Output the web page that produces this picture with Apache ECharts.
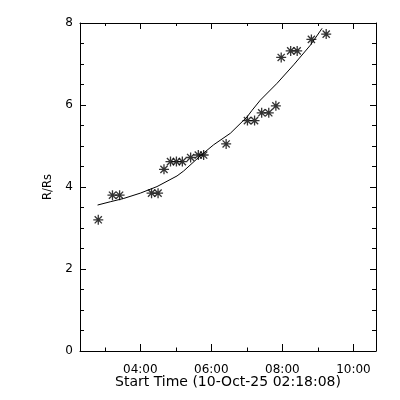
<!DOCTYPE html>
<html>
<head>
<meta charset="utf-8">
<script src="https://cdn.jsdelivr.net/npm/echarts@6/dist/echarts.min.js"></script>
<style>html,body{margin:0;padding:0;background:#fff;}#c{width:400px;height:400px;}</style>
</head>
<body>
<div id="c"></div>
<script>
// Observation start times (HH:MM on 10-Oct-25) and heights (R/Rs)
var obsTimes = ["02:49","03:13","03:25","04:19","04:30","04:40","04:51","05:01","05:11","05:25","05:38","05:47",
                "06:25","07:01","07:13","07:25","07:37","07:49","07:58","08:14","08:25","08:49","09:14"];
var obsHeights = [3.20,3.80,3.80,3.85,3.85,4.43,4.62,4.62,4.62,4.72,4.78,4.78,
                  5.05,5.62,5.62,5.81,5.81,5.98,7.16,7.32,7.32,7.60,7.73];
// Fitted curve (hours of day, R/Rs)
var fitHours = [2.797,3.155,3.530,4.000,4.470,5.034,5.220,5.690,6.065,6.535,7.006,7.146,7.380,7.851,8.318,8.789,9.118];
var fitHeights = [3.56,3.64,3.72,3.85,4.01,4.27,4.39,4.76,5.03,5.31,5.71,5.87,6.12,6.53,6.98,7.46,7.87];
// Axis ticks (hours of day)
var xMajorFirst = 4, xMajorLast = 10, xMajorStep = 2;
var xMinorFirst = 3, xMinorLast = 10, xMinorStep = 1;
var yMajorStep = 2, yMinorStep = 0.5;
var yMin = 0, yMax = 8;
var startLabel = "Start Time (10-Oct-25 02:18:08)";
var yName = "R/Rs";
var xStart = 2 + 18/60 + 8/3600;      // 02:18:08
var xEnd = xStart + 30000/3600;

function toHours(s){var p=s.split(":");return +p[0] + (+p[1])/60;}
function hhmm(v){var h=Math.floor(v+1e-6), m=Math.round((v-h)*60); return (h<10?'0':'')+h+':'+(m<10?'0':'')+m;}
var scatterData = obsTimes.map(function(t,i){return [toHours(t), obsHeights[i]];});
var fitData = fitHours.map(function(h,i){return [h, fitHeights[i]];});

var font = "DejaVu Sans";
var G = {left:80, right:24, top:23, bottom:49, W:400};
var plotW = G.W - G.left - G.right;
var pxPerHour = plotW / (xEnd - xStart);
function gridFor(h0, h1){
  var l = G.left + (h0 - xStart) * pxPerHour;
  var r = G.left + (h1 - xStart) * pxPerHour;
  return {left:l, right:G.W - r, top:G.top, bottom:G.bottom, containLabel:false};
}
var grids = [
  {left:G.left, right:G.right, top:G.top, bottom:G.bottom, containLabel:false},
  gridFor(xMajorFirst, xMajorLast),
  gridFor(xMinorFirst, xMinorLast)
];
function ls(){ return {color:'#000', width:1}; }
function tickAxis(grid, pos, mn, mx, step, len, labels){
  return {
    type:'value', gridIndex:grid, position:pos, min:mn, max:mx, interval:step,
    axisLine:{show:false, onZero:false},
    axisTick:{show:true, inside:true, length:len, lineStyle:ls()},
    axisLabel:labels ? {show:true, margin:13, color:'#000', fontFamily:font, fontSize:12, formatter:hhmm} : {show:false},
    splitLine:{show:false}
  };
}
var xs = [
  {type:'value', gridIndex:0, position:'bottom', min:xStart, max:xEnd,
   axisLine:{show:true, onZero:false, lineStyle:ls()}, axisTick:{show:false}, axisLabel:{show:false}, splitLine:{show:false},
   name:startLabel, nameLocation:'middle', nameGap:24.5, nameTextStyle:{color:'#000', fontFamily:font, fontSize:14}},
  {type:'value', gridIndex:0, position:'top', min:xStart, max:xEnd,
   axisLine:{show:true, onZero:false, lineStyle:ls()}, axisTick:{show:false}, axisLabel:{show:false}, splitLine:{show:false}},
  tickAxis(1, 'bottom', xMajorFirst, xMajorLast, xMajorStep, 7, true),
  tickAxis(1, 'top', xMajorFirst, xMajorLast, xMajorStep, 6, false),
  tickAxis(2, 'bottom', xMinorFirst, xMinorLast, xMinorStep, 3.5, false),
  tickAxis(2, 'top', xMinorFirst, xMinorLast, xMinorStep, 3, false)
];
function yAx(pos, step, len, labels, line){
  return {
    type:'value', gridIndex:0, position:pos, min:yMin, max:yMax, interval:step,
    axisLine:{show:line, onZero:false, lineStyle:ls()},
    axisTick:{show:true, inside:true, length:len, lineStyle:ls()},
    axisLabel:labels ? {show:true, margin:7, color:'#000', fontFamily:font, fontSize:12} : {show:false},
    splitLine:{show:false}
  };
}
var ys = [yAx('left', yMajorStep, 6, true, true), yAx('left', yMinorStep, 4, false, false),
          yAx('right', yMajorStep, 6, false, true), yAx('right', yMinorStep, 4, false, false),
          {type:'value', gridIndex:1, show:false, min:yMin, max:yMax},
          {type:'value', gridIndex:2, show:false, min:yMin, max:yMax}];
ys[0].name = yName; ys[0].nameLocation='middle'; ys[0].nameGap=23;
ys[0].nameTextStyle={color:'#000', fontFamily:font, fontSize:11.5};

var chart = echarts.init(document.getElementById('c'), null, {renderer:'canvas'});
chart.setOption({
  backgroundColor:'#fff',
  animation:false,
  grid: grids,
  xAxis: xs,
  yAxis: ys,
  series:[
    {type:'line', data:fitData, showSymbol:false, symbol:'none', smooth:false,
     lineStyle:{color:'#000', width:1}, xAxisIndex:0, yAxisIndex:0, silent:true},
    {type:'scatter', data:scatterData, xAxisIndex:0, yAxisIndex:0,
     symbol:'path://M0,-5L0,5M-5,0L5,0M-3.6,-3.6L3.6,3.6M-3.6,3.6L3.6,-3.6',
     symbolSize:10,
     itemStyle:{color:'none', borderColor:'#000', borderWidth:1.3}}
  ]
});
</script>
</body>
</html>
